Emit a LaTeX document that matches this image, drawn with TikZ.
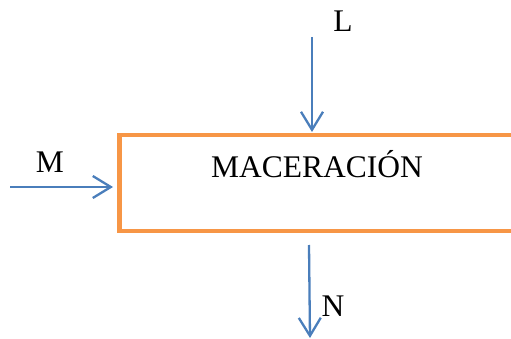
\documentclass[tikz,border=0pt]{standalone}
\usepackage{fontspec}
\setmainfont{Liberation Serif}
\usetikzlibrary{arrows.meta}
\definecolor{boxorange}{HTML}{F79646}
\definecolor{arrowblue}{HTML}{4A7EBB}
\begin{document}
\begin{tikzpicture}[x=1pt,y=-1pt,
  lbl/.style={anchor=base,inner sep=0pt,font=\fontsize{31.5}{38}\selectfont},
  flow/.style={draw=arrowblue,line width=2.3pt,-{Straight Barb[length=18pt,width=22pt,line width=2.3pt]}},
  procbox/.style={draw=boxorange,line width=4.5pt,minimum width=400pt,minimum height=96pt,inner sep=0pt}]
\path[use as bounding box,clip] (0,0) rectangle (511,339);
\node[procbox] (box) at (319.5,183) {};
\node[lbl] (t) at (317,178) {MACERACIÓN};
\coordinate (ms) at (10,187);
\coordinate (me) at (113,187);
\coordinate (ls) at (312,37);
\coordinate (le) at (312,132);
\coordinate (ns) at (309,245);
\coordinate (ne) at (310,338);
\draw[flow] (ms) -- (me);
\draw[flow] (ls) -- (le);
\draw[flow] (ns) -- (ne);
\node[lbl] (m) at (50,173) {M};
\node[lbl] (l) at (343,32) {L};
\node[lbl] (n) at (333,316) {N};
\end{tikzpicture}
\end{document}
